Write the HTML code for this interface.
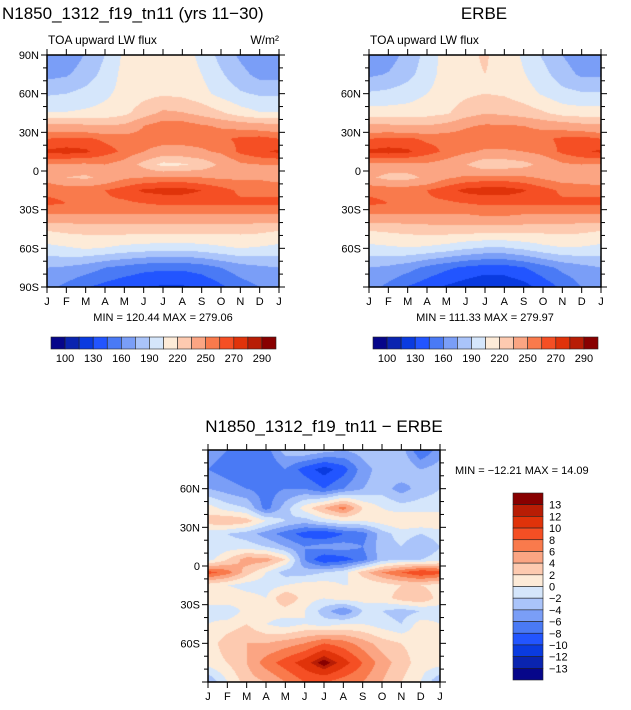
<!DOCTYPE html>
<html><head><meta charset="utf-8"><style>
html,body{margin:0;padding:0;background:#fff;width:631px;height:710px;overflow:hidden}
#wrap{position:relative;width:631px;height:710px}
canvas,svg{position:absolute;left:0;top:0}
text{font-family:"Liberation Sans",sans-serif;fill:#000}
</style></head><body><div id="wrap">
<canvas id="cv" width="631" height="710"></canvas>
<svg id="sv" width="631" height="710"></svg>
</div>
<script>
const months=["J","F","M","A","M","J","J","A","S","O","N","D","J"];
const lats=[90,75,60,45,35,25,15,5,-5,-15,-25,-35,-45,-60,-75,-90];
const colors=["#06068a","#0a24b0","#0a3be0","#2255ff","#4a7af5","#7a9ef7","#aac4fa","#d5e6fb","#fdebd8","#fdcab0","#fba583","#f97a4c","#f54f24","#e0330a","#b81d05","#880000"];
const levelsFlux=[100,115,130,145,160,175,190,205,220,235,250,260,270,280,290];
const fluxTickLabels=["100","130","160","190","220","250","270","290"];
const levelsDiff=[-13,-12,-10,-8,-6,-4,-2,0,2,4,6,8,10,12,13];
const diffTickLabels=["-13","-12","-10","-8","-6","-4","-2","0","2","4","6","8","10","12","13"];
const model=[
[160,165,176,190,208,216,219,214,200,185,172,162,160],
[170,173,182,195,210,216,218,216,205,192,180,170,170],
[188,190,195,202,210,215,218,216,210,200,192,188,188],
[206,206,208,210,216,228,238,236,230,222,212,206,206],
[240,240,238,236,238,250,258,258,252,248,245,242,240],
[260,262,262,258,256,255,255,255,255,258,262,264,260],
[272,274,272,264,258,250,245,245,248,252,262,268,272],
[250,248,248,250,245,230,215,218,225,238,248,250,250],
[245,235,232,240,248,250,252,252,250,248,248,248,245],
[258,258,258,260,265,272,274,274,270,264,258,258,258],
[262,260,258,258,258,260,262,262,262,262,262,262,262],
[248,248,248,248,248,248,248,248,248,248,248,248,248],
[222,225,226,228,228,228,228,228,228,226,226,225,222],
[200,203,206,204,200,198,196,196,198,202,205,203,200],
[175,173,168,160,155,150,148,148,152,160,168,172,175],
[165,156,146,140,134,130,128,128,132,142,153,160,165]];
const erbe=[
[162,168,180,195,212,218,221,216,202,188,175,165,162],
[172,176,185,198,212,218,220,218,206,195,182,172,172],
[192,194,198,205,212,217,220,218,212,203,195,192,192],
[212,212,212,214,218,228,234,232,228,222,214,212,212],
[238,238,236,236,240,248,252,252,250,246,244,240,238],
[260,262,262,258,258,258,258,258,258,258,262,264,260],
[272,274,272,264,258,252,248,248,250,254,262,268,272],
[248,246,246,248,244,236,224,226,230,240,248,250,248],
[238,230,230,238,248,252,254,254,252,248,244,242,238],
[258,258,258,260,266,273,275,275,271,264,258,258,258],
[262,260,258,258,258,260,262,262,262,262,262,262,262],
[248,248,248,248,248,248,250,250,248,248,248,248,248],
[222,224,226,228,229,229,229,229,228,226,226,225,222],
[200,202,204,202,198,192,188,188,193,200,204,203,200],
[175,172,166,156,148,142,138,138,144,154,164,170,175],
[166,156,144,136,128,122,116,118,124,136,148,160,166]];
const diff=[
[-5,-6,-7,-7,-3,-2,-3,-4,-3,-2,-3,-8,-5],
[-6,-7,-8,-8,-6,-9,-11,-9,-5,-3,-2,-4,-3],
[-4,-5,-6,-7,-6,-6,-8,-6,-4,-3,-5,-3,-2],
[1,-1,-2,-7,-3,1,4,7,2,0,-1,-1,-1],
[3,4,3,0,-2,-3,-1,0,0,1,2,2,2],
[-1,-2,-3,-5,-7,-9,-10,-8,-7,-3,-1,-2,-1],
[-2,-1,-1,-2,-4,-6,-5,-5,-6,-3,-2,-4,-2],
[-1,2,5,5,2,-6,-10,-9,-7,-3,-2,-2,-1],
[9,7,3,0,-3,-3,-2,-1,3,6,8,10,9],
[1,0,-1,-1,0,1,1,0,0,1,2,2,1],
[1,2,1,0,4,1,0,1,1,1,3,4,1],
[-1,-2,1,1,1,0,-3,-6,-2,-2,-3,-2,-1],
[0,1,2,0,-1,0,-1,0,0,-1,-2,1,0],
[1,3,4,4,5,6,8,7,5,3,2,1,1],
[1,2,4,7,9,11,14,11,8,5,3,1,1],
[-4,0,3,4,6,8,8,7,6,4,2,0,-4]];

const cv=document.getElementById('cv'),ctx=cv.getContext('2d');
const svg=document.getElementById('sv');const NS="http://www.w3.org/2000/svg";
function hex(c){return [parseInt(c.substr(1,2),16),parseInt(c.substr(3,2),16),parseInt(c.substr(5,2),16)];}
const rgb=colors.map(hex);
function sample(grid,m,lat){
  let i=0;while(i<lats.length-2&&lat<lats[i+1])i++;
  const ty=(lats[i]-lat)/(lats[i]-lats[i+1]);
  let j=Math.min(11,Math.floor(m));const tx=m-j;
  const a=grid[i][j]*(1-tx)+grid[i][j+1]*tx, b=grid[i+1][j]*(1-tx)+grid[i+1][j+1]*tx;
  return a*(1-ty)+b*ty;}
function cls(v,lv){let k=0;while(k<lv.length&&v>=lv[k])k++;return k;}
function el(tag,attrs,txt){const e=document.createElementNS(NS,tag);for(const k in attrs)e.setAttribute(k,attrs[k]);if(txt!==undefined)e.textContent=txt;svg.appendChild(e);return e;}
function field(P,grid,lv,name){
  const img=ctx.createImageData(P.w,P.h);
  for(let y=0;y<P.h;y++){const lat=90-(y+0.5)/P.h*180;
    for(let x=0;x<P.w;x++){const m=(x+0.5)/P.w*12;const c=rgb[cls(sample(grid,m,lat),lv)];const o=(y*P.w+x)*4;
      img.data[o]=c[0];img.data[o+1]=c[1];img.data[o+2]=c[2];img.data[o+3]=255;}}
  ctx.putImageData(img,P.x,P.y);
  const g=el('rect',{x:P.x,y:P.y,width:P.w,height:P.h,fill:'none',stroke:'#000','stroke-width':1.5});
  
  
  const xs=m=>P.x+m/12*P.w, ys=l=>P.y+(90-l)/180*P.h;
  for(let m=0;m<=12;m++){const X=xs(m);
    el('line',{x1:X,y1:P.y,x2:X,y2:P.y-6,stroke:'#000'});
    el('line',{x1:X,y1:P.y+P.h,x2:X,y2:P.y+P.h+6,stroke:'#000'});
    const t=el('text',{x:X,y:P.y+P.h+18,'font-size':11,'text-anchor':'middle'},months[m]);
    
    }
  for(let l=-90;l<=90;l+=10){const Y=ys(l);const big=l%30===0;const L=big?6:4;
    el('line',{x1:P.x-L,y1:Y,x2:P.x,y2:Y,stroke:'#000'});
    el('line',{x1:P.x+P.w,y1:Y,x2:P.x+P.w+L,y2:Y,stroke:'#000'});
    if(big&&(P.poles||Math.abs(l)<90)){const s=l===0?'0':Math.abs(l)+(l>0?'N':'S');
      const t=el('text',{x:P.x-8,y:Y+4,'font-size':11,'text-anchor':'end'},s);
      
      }}
}
function hbar(x,y,w,h,lbls,name){const bw=w/16;
  for(let k=0;k<16;k++){const r=el('rect',{x:x+k*bw,y:y,width:bw,height:h,fill:colors[k],stroke:'#222','stroke-width':0.6});
    
    }
  lbls.forEach((s,i)=>{const t=el('text',{x:x+(2*i+1)*bw,y:y+h+13,'font-size':11,'text-anchor':'middle'},s);
    
    });}
function vbar(x,y,w,h,lbls,name){const bh=h/16;
  for(let k=0;k<16;k++){const r=el('rect',{x:x,y:y+k*bh,width:w,height:bh,fill:colors[15-k],stroke:'#222','stroke-width':0.6});
    
    }
  lbls.slice().reverse().forEach((s,i)=>{const t=el('text',{x:x+w+6,y:y+(i+1)*bh+4,'font-size':11},s.replace('-','\u2212'));
    
    });}

const P1={x:47,y:55,w:232,h:232,poles:true},P2={x:369,y:55,w:232,h:232,poles:false},P3={x:208,y:450,w:232,h:232,poles:false};
field(P1,model,levelsFlux,'model-panel');
field(P2,erbe,levelsFlux,'erbe-panel');
field(P3,diff,levelsDiff,'diff-panel');
hbar(51,337,225,12,fluxTickLabels,'model-colorbar');
hbar(373,337,225,12,fluxTickLabels,'erbe-colorbar');
vbar(513,493,30,187,diffTickLabels,'diff-colorbar');
function T(x,y,s,sz,anchor,name){const t=el('text',{x:x,y:y,'font-size':sz,'text-anchor':anchor||'start'},s);
  
  }
T(2,19,"N1850_1312_f19_tn11 (yrs 11\u221230)",17,'start','model-title');
T(484,19,"ERBE",17,'middle','erbe-title');
T(48,44,"TOA upward LW flux",12,'start','model-subtitle');
T(370,44,"TOA upward LW flux",12,'start','erbe-subtitle');
T(279,44,"W/m\u00b2",12,'end','model-units');
T(163,321,"MIN = 120.44 MAX = 279.06",11,'middle','model-minmax');
T(485,321,"MIN = 111.33 MAX = 279.97",11,'middle','erbe-minmax');
T(324,432,"N1850_1312_f19_tn11 \u2212 ERBE",17,'middle','diff-title');
T(455,474,"MIN = \u221212.21  MAX =   14.09",11,'start','diff-minmax');
</script></body></html>
